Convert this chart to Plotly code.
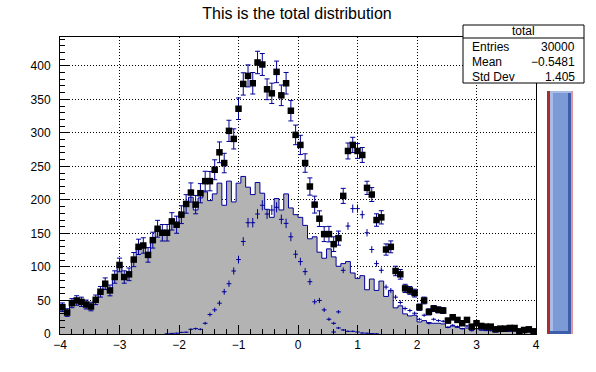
import numpy as np
import plotly.graph_objects as go

# ---------------- data ----------------
nbins, xlo, xhi = 100, -4.0, 4.0

total = [40, 32, 46, 50, 48, 44, 41, 51, 63, 75, 65, 85, 103, 85, 89, 111, 130, 132, 118, 140,
         157, 151, 151, 168, 163, 178, 194, 211, 193, 210,
         228, 228, 245, 271, 255, 303, 291, 336, 373, 385, 374, 405, 402, 365, 359, 391, 356, 374,
         333, 297, 282, 255, 220,
         193, 172, 149, 149, 134, 143, 206, 273, 282, 273, 267, 218, 208, 170, 174, 126, 130, 94, 89,
         68, 65, 61, 40, 50, 33, 38, 36, 35, 20, 25, 21, 16, 21, 11, 16, 12, 11, 11, 7, 8, 8, 9, 9,
         4, 6, 7, 4]

main = [40, 32, 46, 50, 48, 44, 41, 51, 63, 75, 65, 85, 103, 85, 89, 111, 130, 132, 118, 140,
        157, 151, 151, 167, 162,
        176, 191, 204, 185, 203, 212, 199, 209, 225, 192, 228, 197, 225, 235, 219, 208, 226, 210,
        186, 174, 202, 185, 209, 188, 178, 174, 162, 142, 145, 122, 113, 127, 115, 101, 105, 108,
        91, 83, 87, 66, 82, 65, 79, 56, 65, 39, 42,
        30, 27, 28, 18, 20, 17, 16, 16, 15, 10, 12, 10, 8, 9, 6, 8, 6, 5, 6, 3, 4, 4, 4, 4, 2, 3, 3, 1]

s1 = [0] * 22 + [0.3, 0.9, 1.2, 2.4, 2.7, 7, 8, 7, 16, 29, 36, 46, 63, 75, 94, 111, 138, 166, 166,
                 179, 192, 179, 185, 189, 171, 165, 145, 119, 108, 93, 78, 48, 50, 36, 22, 16, 9,
                 6, 4, 4, 3, 1.5, 1.2, 0.6, 0.3] + [0] * 33

s2 = [0] * 57 + [3, 33, 95, 161, 187, 187, 178, 151, 126, 105, 95, 70, 65, 55, 47,
                 38, 35, 31, 22, 28, 16, 22, 20, 19, 10, 13, 11, 8, 12, 5, 8, 6, 6, 5, 4, 4, 4,
                 5, 5, 2, 3, 4, 3]

w_s1, w_s2 = 0.3, 0.2          # fill weights of the two signals
stats_title = "total"
stats_labels = ["Entries", "Mean", "Std Dev"]
stats_values = ["30000", "\u22120.5481", "1.405"]
title = "This is the total distribution"

# ---------------- derived ----------------
edges = np.linspace(xlo, xhi, nbins + 1)
centers = 0.5 * (edges[:-1] + edges[1:])
bw = edges[1] - edges[0]
total = np.array(total, float)
main = np.array(main, float)
s1 = np.array(s1, float)
s2 = np.array(s2, float)

NAVY = "rgb(0,0,153)"
GRAY = "rgb(179,179,179)"
FONT = "Liberation Sans, Arial, Helvetica, sans-serif"

fig = go.Figure()

# main contributor: filled step histogram
fig.add_trace(go.Scatter(
    x=edges, y=np.append(main, main[-1]), mode="lines", line_shape="hv",
    line=dict(color=NAVY, width=1), fill="tozeroy", fillcolor=GRAY,
    hoverinfo="skip", showlegend=False))

# signals drawn as error crosses
for h, w in ((s1, w_s1), (s2, w_s2)):
    m = h > 0
    fig.add_trace(go.Scatter(
        x=centers[m], y=h[m], mode="markers",
        marker=dict(size=1, color=NAVY),
        error_x=dict(type="constant", value=bw / 2, width=0, color=NAVY, thickness=1),
        error_y=dict(type="data", array=np.sqrt(w * h[m]), width=0, color=NAVY, thickness=1),
        showlegend=False))

# total with E1 error bars and square markers
err_tot = np.sqrt(main + w_s1 * s1 + w_s2 * s2)
fig.add_trace(go.Scatter(
    x=centers, y=total, mode="markers",
    marker=dict(symbol="square", size=6.5, color="black", line=dict(width=0)),
    error_x=dict(type="constant", value=bw / 2, width=0, color=NAVY, thickness=1),
    error_y=dict(type="data", array=err_tot, width=2.5, color=NAVY, thickness=1),
    showlegend=False))

# ---------------- layout (page pixel coordinates) ----------------
W, H = 596, 372
L, R, T, B = 60, 536, 37, 334      # frame in pixels


def px2x(px):
    return (px - L) / (R - L)


def py2y(py):
    return (B - py) / (B - T)


axis_common = dict(
    showline=True, linecolor="black", linewidth=1, mirror=True,
    ticks="inside", tickcolor="black", tickwidth=1, ticklen=9,
    showgrid=True, gridcolor="black", gridwidth=1, griddash="1px,2px",
    zeroline=False, tickfont=dict(family=FONT, size=12, color="black"),
)

fig.update_layout(
    width=W, height=H,
    margin=dict(l=L, r=W - R, t=T, b=H - B),
    paper_bgcolor="white", plot_bgcolor="white",
    hovermode=False,
    title=dict(text=title, x=297 / W, xanchor="center", y=1 - 13 / H,
               yanchor="middle", font=dict(family=FONT, size=16, color="black")),
    xaxis=dict(range=[xlo, xhi], tick0=-4, dtick=1,
               minor=dict(dtick=0.2, ticks="inside", ticklen=5, tickcolor="black", showgrid=False),
               **axis_common),
    yaxis=dict(range=[0, 443], tick0=0, dtick=50,
               minor=dict(dtick=10, ticks="inside", ticklen=5, tickcolor="black", showgrid=False),
               ticklabelstandoff=6,
               **axis_common),
)

shapes = []
# statistics box
bx0, bx1, by0, by1, bsep = 463, 584, 25, 83, 38
shapes.append(dict(type="rect", xref="paper", yref="paper", x0=px2x(bx0), x1=px2x(bx1),
                   y0=py2y(by1), y1=py2y(by0), fillcolor="white",
                   line=dict(color="black", width=1), layer="above"))
shapes.append(dict(type="line", xref="paper", yref="paper", x0=px2x(bx0), x1=px2x(bx1),
                   y0=py2y(bsep), y1=py2y(bsep), line=dict(color="black", width=1), layer="above"))

annotations = [dict(text=stats_title, xref="paper", yref="paper", x=px2x((bx0 + bx1) / 2),
                    y=py2y(31.5), xanchor="center", yanchor="middle", showarrow=False,
                    font=dict(family=FONT, size=12, color="black"))]
for i, (lab, val) in enumerate(zip(stats_labels, stats_values)):
    yy = py2y(47 + 15 * i)
    annotations.append(dict(text=lab, xref="paper", yref="paper", x=px2x(470), y=yy,
                            xanchor="left", yanchor="middle", showarrow=False,
                            font=dict(family=FONT, size=12, color="black")))
    annotations.append(dict(text=val, xref="paper", yref="paper", x=px2x(577), y=yy,
                            xanchor="right", yanchor="middle", showarrow=False,
                            font=dict(family=FONT, size=12, color="black")))

# slider on the right
sy0, sy1 = 91, 334
for x0, x1, col in ((547, 550, "rgb(170,45,45)"), (550, 571, "rgb(123,154,214)"),
                    (550, 553, "rgb(168,188,232)"), (568, 571, "rgb(62,94,172)"),
                    (571, 573, "rgb(228,150,150)")):
    shapes.append(dict(type="rect", xref="paper", yref="paper", x0=px2x(x0), x1=px2x(x1),
                       y0=py2y(sy1), y1=py2y(sy0), fillcolor=col, line=dict(width=0),
                       layer="above"))
shapes.append(dict(type="rect", xref="paper", yref="paper", x0=px2x(550), x1=px2x(571),
                   y0=py2y(93), y1=py2y(sy0), fillcolor="rgb(168,188,232)", line=dict(width=0),
                   layer="above"))
shapes.append(dict(type="rect", xref="paper", yref="paper", x0=px2x(550), x1=px2x(571),
                   y0=py2y(sy1), y1=py2y(331), fillcolor="rgb(62,94,172)", line=dict(width=0),
                   layer="above"))

fig.update_layout(shapes=shapes, annotations=annotations)
# remove the browser's default 8px body margin so the figure starts at the page corner
fig.write_html("out.html", config={"displayModeBar": False, "staticPlot": True},
               post_script="document.body.style.margin='0px';")
